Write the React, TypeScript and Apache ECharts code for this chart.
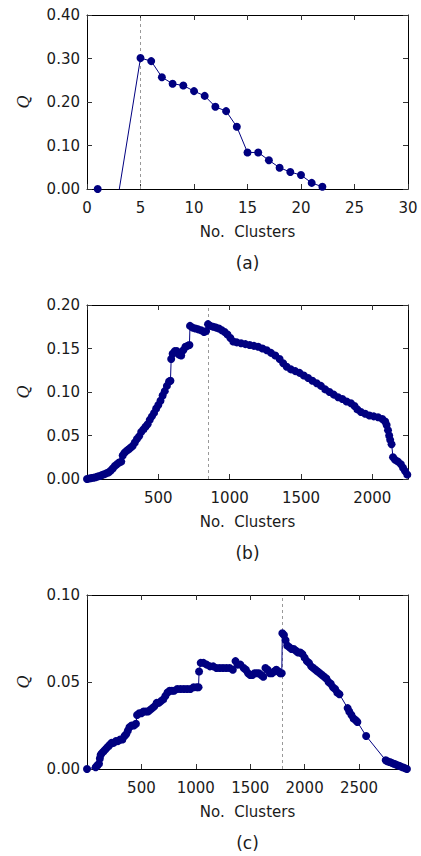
import React, { useEffect, useRef } from "react";
import * as echarts from "echarts";

// ---- Data (a) ----
const aX = [1, 2, 5, 6, 7, 8, 9, 10, 11, 12, 13, 14, 15, 16, 17, 18, 19, 20, 21, 22];
const aY = [0.0, -0.155, 0.301, 0.294, 0.257, 0.242, 0.238, 0.225, 0.214, 0.189, 0.179, 0.143, 0.084, 0.084, 0.066, 0.049, 0.039, 0.032, 0.014, 0.005];
const aBest = 5;

// ---- Data (b) ----
const bX = [0, 15, 30, 45, 60, 75, 90, 105, 120, 135, 150, 165, 180, 195, 210, 225, 240, 250, 262, 275, 290, 305, 320, 335, 350, 365, 380, 395, 410, 425, 440, 455, 470, 485, 500, 515, 530, 545, 560, 575, 585, 590, 600, 615, 630, 645, 660, 675, 690, 705, 718, 722, 740, 760, 780, 800, 820, 835, 848, 865, 885, 905, 925, 945, 965, 985, 1005, 1025, 1050, 1080, 1110, 1140, 1170, 1200, 1230, 1260, 1290, 1320, 1350, 1375, 1400, 1430, 1460, 1490, 1520, 1550, 1580, 1610, 1640, 1670, 1700, 1730, 1760, 1790, 1820, 1850, 1875, 1895, 1920, 1950, 1980, 2010, 2040, 2070, 2090, 2100, 2110, 2118, 2125, 2135, 2145, 2160, 2180, 2200, 2215, 2230, 2245];
const bY = [0.0, 0.0005, 0.001, 0.0015, 0.002, 0.0028, 0.0035, 0.0045, 0.0055, 0.0065, 0.0075, 0.0095, 0.012, 0.015, 0.017, 0.019, 0.02, 0.027, 0.03, 0.032, 0.034, 0.036, 0.038, 0.042, 0.046, 0.049, 0.054, 0.057, 0.06, 0.063, 0.068, 0.072, 0.076, 0.081, 0.085, 0.09, 0.096, 0.101, 0.107, 0.112, 0.113, 0.138, 0.144, 0.147, 0.147, 0.143, 0.142, 0.148, 0.152, 0.153, 0.154, 0.176, 0.174, 0.173, 0.172, 0.171, 0.169, 0.17, 0.178, 0.176, 0.175, 0.174, 0.173, 0.171, 0.169, 0.166, 0.162, 0.158, 0.157, 0.156, 0.155, 0.154, 0.153, 0.152, 0.15, 0.148, 0.145, 0.142, 0.138, 0.133, 0.129, 0.126, 0.124, 0.122, 0.119, 0.116, 0.113, 0.11, 0.107, 0.103, 0.1, 0.097, 0.094, 0.092, 0.089, 0.087, 0.084, 0.08, 0.077, 0.075, 0.073, 0.072, 0.071, 0.069, 0.066, 0.062, 0.056, 0.05, 0.045, 0.04, 0.025, 0.022, 0.02, 0.017, 0.013, 0.009, 0.005];
const bBest = 848;

// ---- Data (c) ----
const cX = [0, 80, 95, 110, 118, 125, 135, 150, 165, 180, 195, 210, 225, 245, 265, 285, 305, 325, 345, 360, 375, 390, 410, 430, 450, 460, 480, 500, 520, 540, 560, 580, 600, 620, 640, 660, 680, 700, 720, 740, 760, 780, 800, 830, 860, 890, 920, 950, 980, 1010, 1025, 1030, 1045, 1070, 1100, 1130, 1160, 1190, 1220, 1250, 1280, 1310, 1340, 1365, 1385, 1410, 1440, 1460, 1480, 1500, 1520, 1540, 1560, 1580, 1600, 1620, 1640, 1660, 1680, 1700, 1720, 1740, 1760, 1775, 1790, 1795, 1810, 1825, 1840, 1860, 1880, 1900, 1920, 1940, 1960, 1980, 2000, 2020, 2040, 2060, 2080, 2100, 2120, 2140, 2160, 2180, 2200, 2220, 2240, 2260, 2280, 2300, 2320, 2395, 2410, 2430, 2450, 2470, 2485, 2565, 2745, 2760, 2780, 2800, 2820, 2840, 2860, 2880, 2900, 2920, 2940];
const cY = [0.0, 0.001, 0.002, 0.003, 0.006, 0.008, 0.009, 0.01, 0.011, 0.012, 0.013, 0.014, 0.015, 0.015, 0.016, 0.016, 0.017, 0.017, 0.019, 0.02, 0.022, 0.024, 0.025, 0.025, 0.026, 0.031, 0.032, 0.032, 0.033, 0.033, 0.033, 0.034, 0.035, 0.036, 0.038, 0.038, 0.039, 0.04, 0.042, 0.044, 0.045, 0.045, 0.045, 0.046, 0.046, 0.046, 0.046, 0.046, 0.047, 0.047, 0.047, 0.056, 0.061, 0.061, 0.06, 0.059, 0.059, 0.058, 0.058, 0.058, 0.058, 0.058, 0.057, 0.062, 0.06, 0.06, 0.058, 0.057, 0.055, 0.054, 0.054, 0.055, 0.055, 0.055, 0.054, 0.053, 0.058, 0.057, 0.055, 0.055, 0.056, 0.057, 0.056, 0.055, 0.055, 0.078, 0.077, 0.074, 0.071, 0.07, 0.069, 0.069, 0.068, 0.067, 0.067, 0.066, 0.064, 0.062, 0.061, 0.059, 0.058, 0.057, 0.056, 0.055, 0.054, 0.053, 0.052, 0.05, 0.049, 0.047, 0.046, 0.044, 0.043, 0.035, 0.033, 0.031, 0.029, 0.028, 0.027, 0.019, 0.005, 0.0045, 0.004, 0.0035, 0.003, 0.0025, 0.002, 0.0015, 0.001, 0.0005, 0.0];
const cBest = 1790;

const panelLabels = ["(a)", "(b)", "(c)"];
const xName = "No.  Clusters";
const yName = "Q";

const FONT = "DejaVu Sans";
const NAVY = "#000080";
const TXT = "#1a1a1a";

const GRID_LEFT = 87;
const GRID_W = 321;
const GRID_H = 174;
const TOPS = [15, 305, 595];

function pairs(xs: number[], ys: number[]) {
  return xs.map((x, i) => [x, ys[i]]);
}

export default function App() {
  const ref = useRef<HTMLDivElement>(null);
  useEffect(() => {
    const chart = echarts.init(ref.current!, null, { renderer: "svg" });

    const panels = [
      { xmin: 0, xmax: 30, xint: 5, ymax: 0.4, yint: 0.1, hideEnds: false, data: pairs(aX, aY), best: aBest, sym: 8 },
      { xmin: 0, xmax: 2250, xint: 500, ymax: 0.2, yint: 0.05, hideEnds: true, data: pairs(bX, bY), best: bBest, sym: 8 },
      { xmin: 0, xmax: 2950, xint: 500, ymax: 0.1, yint: 0.05, hideEnds: true, data: pairs(cX, cY), best: cBest, sym: 8 },
    ];

    const grid: any[] = [];
    const xAxis: any[] = [];
    const yAxis: any[] = [];
    const series: any[] = [];
    const graphic: any[] = [];

    const axisLine = { show: true, onZero: false, lineStyle: { color: "#000", width: 1 } };
    const tick = { show: true, inside: true, length: 5, lineStyle: { color: "#333", width: 1 } };

    panels.forEach((p, i) => {
      const top = TOPS[i];
      grid.push({ left: GRID_LEFT, top, width: GRID_W, height: GRID_H, containLabel: false });
      xAxis.push({
        type: "value", gridIndex: i, position: "bottom", min: p.xmin, max: p.xmax, interval: p.xint,
        axisLine, axisTick: tick, splitLine: { show: false },
        axisLabel: {
          show: true, margin: 11, color: TXT, fontFamily: FONT, fontSize: 15,
          showMinLabel: !p.hideEnds, showMaxLabel: !p.hideEnds,
          formatter: (v: number) => String(v),
        },
      });
      xAxis.push({
        type: "value", gridIndex: i, position: "top", min: p.xmin, max: p.xmax, interval: p.xint,
        axisLine, axisTick: tick, splitLine: { show: false }, axisLabel: { show: false },
      });
      yAxis.push({
        type: "value", gridIndex: i, position: "left", min: 0, max: p.ymax, interval: p.yint,
        axisLine, axisTick: tick, splitLine: { show: false },
        axisLabel: {
          show: true, margin: 7, color: TXT, fontFamily: FONT, fontSize: 15,
          formatter: (v: number) => v.toFixed(2),
        },
      });
      yAxis.push({
        type: "value", gridIndex: i, position: "right", min: 0, max: p.ymax, interval: p.yint,
        axisLine, axisTick: tick, splitLine: { show: false }, axisLabel: { show: false },
      });

      series.push({
        type: "line",
        xAxisIndex: i * 2,
        yAxisIndex: i * 2,
        data: p.data,
        clip: true,
        symbol: "circle",
        symbolSize: p.sym,
        showAllSymbol: true,
        lineStyle: { color: NAVY, width: 1 },
        itemStyle: { color: NAVY, borderWidth: 0 },
        emphasis: { disabled: true },
        z: 3,
        markLine: {
          silent: true,
          symbol: "none",
          label: { show: false },
          lineStyle: { type: [3, 3], color: "#999", width: 1 },
          data: [{ xAxis: p.best }],
          z: 2,
        },
      });

      const cx = GRID_LEFT + GRID_W / 2;
      graphic.push({
        type: "text", x: cx, y: top + GRID_H + 43,
        style: { text: xName, fontFamily: FONT, fontSize: 15, fill: TXT, textAlign: "center", textVerticalAlign: "middle" },
      });
      graphic.push({
        type: "text", x: cx, y: top + GRID_H + 74,
        style: { text: panelLabels[i], fontFamily: FONT, fontSize: 17, fill: TXT, textAlign: "center", textVerticalAlign: "middle" },
      });
      graphic.push({
        type: "text", x: 23, y: top + GRID_H / 2, rotation: Math.PI / 2,
        style: { text: yName, fontFamily: "DejaVu Serif", fontStyle: "italic", fontSize: 16, fill: TXT, textAlign: "center", textVerticalAlign: "middle" },
      });
    });

    chart.setOption({
      animation: false,
      backgroundColor: "#fff",
      grid, xAxis, yAxis, series, graphic,
    });
    return () => chart.dispose();
  }, []);
  return (
    <div
      ref={ref}
      style={{ position: "fixed", left: 0, top: 0, width: 421, height: 856, background: "#fff" }}
    />
  );
}
